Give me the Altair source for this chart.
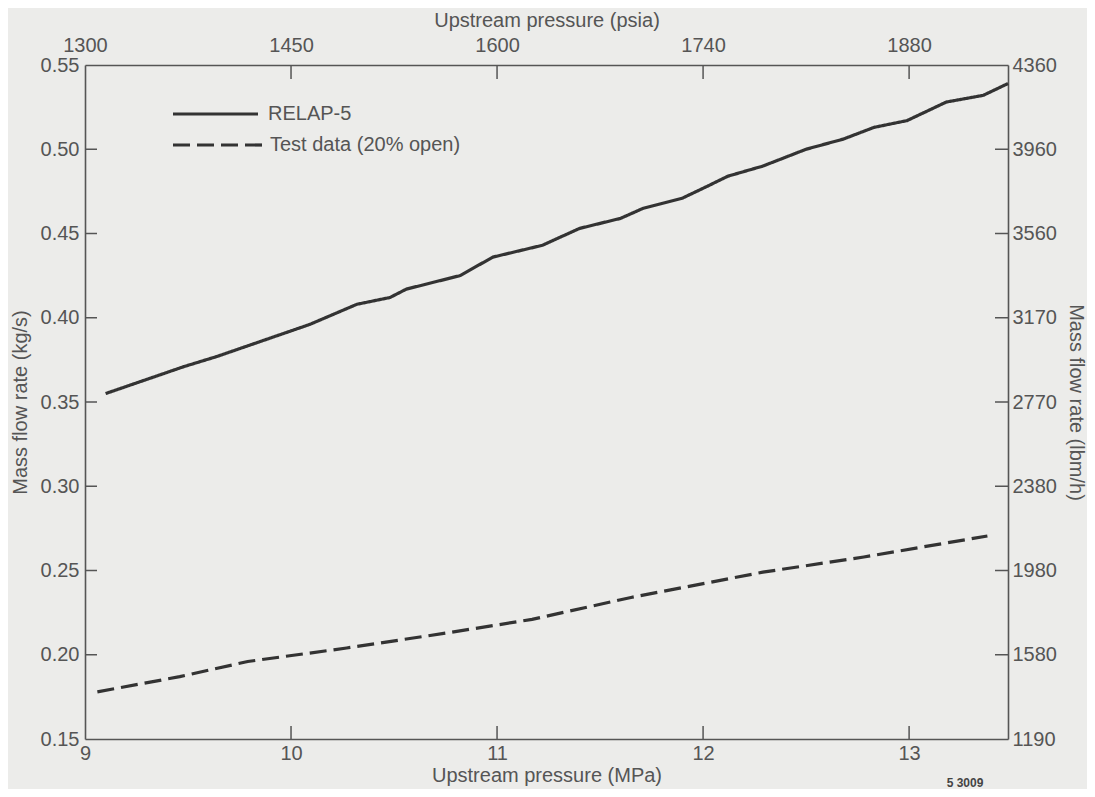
import altair as alt
import pandas as pd

# ---- data ----
relap_x = [9.10, 9.48, 9.64, 10.09, 10.32, 10.48, 10.56, 10.82, 10.98, 11.22, 11.40,
           11.60, 11.71, 11.90, 12.02, 12.12, 12.29, 12.50, 12.68, 12.83, 12.99, 13.18,
           13.36, 13.48]
relap_y = [0.355, 0.371, 0.377, 0.396, 0.408, 0.412, 0.417, 0.425, 0.436, 0.443, 0.453,
           0.459, 0.465, 0.471, 0.478, 0.484, 0.490, 0.500, 0.506, 0.513, 0.517, 0.528,
           0.532, 0.539]
test_x = [9.06, 9.46, 9.79, 10.27, 10.76, 11.17, 11.65, 12.29, 12.78, 13.38]
test_y = [0.178, 0.187, 0.196, 0.204, 0.213, 0.221, 0.234, 0.249, 0.258, 0.2705]

series_names = ["RELAP-5", "Test data (20% open)"]

mpa_ticks = [9, 10, 11, 12, 13]
psia_labels = ["1300", "1450", "1600", "1740", "1880"]
kgs_ticks = [0.15, 0.20, 0.25, 0.30, 0.35, 0.40, 0.45, 0.50, 0.55]
lbmh_labels = ["1190", "1580", "1980", "2380", "2770", "3170", "3560", "3960", "4360"]
inner_x_ticks = [10, 11, 12, 13]
inner_y_ticks = [0.20, 0.25, 0.30, 0.35, 0.40, 0.45, 0.50]
figure_id = "5 3009"

X_DOMAIN = [9, 13.48]
Y_DOMAIN = [0.15, 0.55]
W, H = 923, 674
INK = "#333333"
GREY = "#555555"
FONT = "Liberation Sans"
DASHES = [[1, 0], [17, 7]]

df = pd.DataFrame({
    "p": relap_x + test_x,
    "m": relap_y + test_y,
    "series": [series_names[0]] * len(relap_x) + [series_names[1]] * len(test_x),
})

xs = alt.Scale(domain=X_DOMAIN, nice=False, zero=False)
ys = alt.Scale(domain=Y_DOMAIN, nice=False, zero=False)
dash_scale = alt.Scale(domain=series_names, range=DASHES)

psia_expr = "{" + ",".join(f"'{v}':'{l}'" for v, l in zip(mpa_ticks, psia_labels)) + "}[datum.value]"
lbm_expr = "{" + ",".join(f"'{v:.2f}':'{l}'" for v, l in zip(kgs_ticks, lbmh_labels)) + "}[format(datum.value,'.2f')]"

lines = alt.Chart(df).mark_line(color=INK, strokeWidth=3.2).encode(
    x=alt.X("p:Q", scale=xs,
            axis=alt.Axis(orient="bottom", values=mpa_ticks, format="d", labelFlush=False,
                          title="Upstream pressure (MPa)", labelPadding=4, titlePadding=2)),
    y=alt.Y("m:Q", scale=ys,
            axis=alt.Axis(orient="left", values=kgs_ticks, format=".2f", labelFlush=False,
                          title="Mass flow rate (kg/s)", labelPadding=6, titlePadding=10)),
    strokeDash=alt.StrokeDash("series:N", scale=dash_scale, legend=None),
    order="p:Q",
)

# hand-drawn style legend (upper left)
legend_layers = []
for i, name in enumerate(series_names):
    ypos = 49 + 31 * i
    one = pd.DataFrame({"series": [name]})
    legend_layers.append(
        alt.Chart(one).mark_rule(color=INK, strokeWidth=3.2).encode(
            x=alt.value(88), x2=alt.value(173 + 5 * i), y=alt.value(ypos),
            strokeDash=alt.StrokeDash("series:N", scale=dash_scale, legend=None)))
    legend_layers.append(
        alt.Chart(one).mark_text(font=FONT, fontSize=20, color=GREY, align="left",
                                 baseline="middle").encode(
            text="series:N", x=alt.value(183 + 2 * i), y=alt.value(ypos)))

top_df = pd.DataFrame({"t": mpa_ticks})
top_axis = alt.Chart(top_df).mark_rule(color=GREY, strokeWidth=1.5).encode(
    x=alt.X("t:Q", scale=xs,
            axis=alt.Axis(orient="top", values=mpa_ticks, labelExpr=psia_expr, labelFlush=False,
                          title="Upstream pressure (psia)", labelPadding=10, titlePadding=5)),
    y=alt.value(0),
    y2=alt.value(0),
)

right_df = pd.DataFrame({"t": kgs_ticks})
right_axis = alt.Chart(right_df).mark_rule(color=GREY, strokeWidth=1.5).encode(
    y=alt.Y("t:Q", scale=ys,
            axis=alt.Axis(orient="right", values=kgs_ticks, labelExpr=lbm_expr, labelFlush=False,
                          title="Mass flow rate (lbm/h)", labelPadding=4, titlePadding=9)),
    x=alt.value(W),
    x2=alt.value(W),
)

bx_df = pd.DataFrame({"t": inner_x_ticks})
bottom_ticks = alt.Chart(bx_df).mark_rule(color=GREY, strokeWidth=1.5).encode(
    x=alt.X("t:Q", scale=xs, axis=None), y=alt.value(H), y2=alt.value(H - 13))
top_ticks = alt.Chart(bx_df).mark_rule(color=GREY, strokeWidth=1.5).encode(
    x=alt.X("t:Q", scale=xs, axis=None), y=alt.value(0), y2=alt.value(14))

ly_df = pd.DataFrame({"t": inner_y_ticks})
left_ticks = alt.Chart(ly_df).mark_rule(color=GREY, strokeWidth=1.5).encode(
    y=alt.Y("t:Q", scale=ys, axis=None), x=alt.value(0), x2=alt.value(12))
right_ticks = alt.Chart(ly_df).mark_rule(color=GREY, strokeWidth=1.5).encode(
    y=alt.Y("t:Q", scale=ys, axis=None), x=alt.value(W), x2=alt.value(W - 13))

note = alt.Chart(pd.DataFrame({"txt": [figure_id]})).mark_text(
    font=FONT, fontSize=12, fontWeight="bold", color="#444444", align="center", baseline="middle"
).encode(text="txt:N", x=alt.value(880), y=alt.value(718))

chart = alt.layer(
    lines, *legend_layers, top_axis, right_axis, bottom_ticks, top_ticks, left_ticks,
    right_ticks, note
).resolve_scale(x="independent", y="independent").properties(
    width=W, height=H,
    background="#ececea",
    autosize=alt.AutoSizeParams(type="none"),
    padding={"left": 77, "top": 57, "right": 79, "bottom": 50},
).configure_view(stroke=None).configure_axis(
    domainColor=GREY, domainWidth=1.6, tickSize=0, grid=False,
    labelColor=GREY, labelFont=FONT, labelFontSize=20,
    titleColor=GREY, titleFont=FONT, titleFontSize=20, titleFontWeight="normal",
)

chart.save("out.html", embed_options={"renderer": "svg", "actions": False})
